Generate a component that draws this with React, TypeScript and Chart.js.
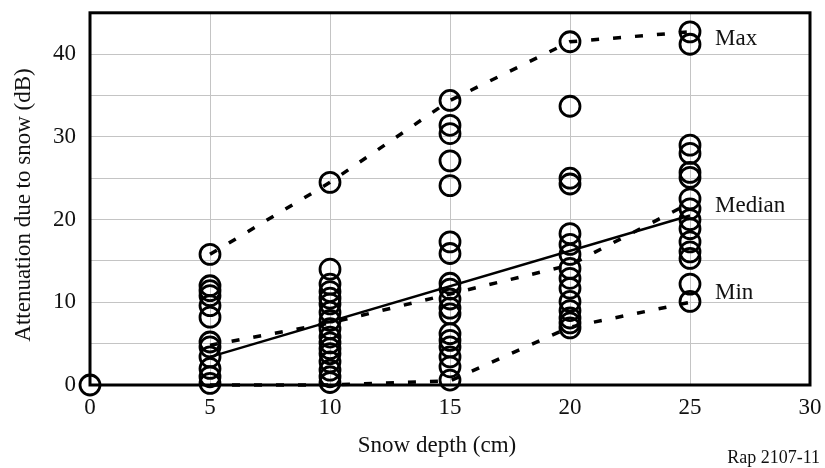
import React, { useEffect, useRef } from 'react';
import { Chart, registerables } from 'chart.js';

Chart.register(...registerables);

// ---- data ----
const depthColumns = [0, 5, 10, 15, 20, 25];
const atten0 = [0];
const atten5 = [15.8, 12, 11.4, 10.8, 9.6, 8.2, 5.2, 4.6, 3.4, 2, 1, 0.2];
const atten10 = [24.5, 14, 12.2, 11.3, 10.5, 9.8, 8.8, 7.8, 6.8, 5.8, 5.1, 4.4, 3.8, 2.8, 1.8, 1, 0.3];
const atten15 = [34.4, 31.4, 30.4, 27.1, 24.1, 17.3, 15.9, 12.3, 11.6, 10.4, 9.3, 8.6, 6.2, 5.4, 4.6, 3.4, 2.2, 0.6];
const atten20 = [41.5, 33.7, 25, 24.3, 18.3, 17, 15.8, 14.1, 12.9, 11.7, 10.1, 9, 8.1, 7.5, 6.9];
const atten25 = [42.7, 41.2, 29, 28, 25.7, 25.1, 22.5, 21.3, 20, 18.9, 17.3, 16.1, 15.3, 12.2, 10.1];
const attenByColumn = [atten0, atten5, atten10, atten15, atten20, atten25];

const curveDepths = [5, 10, 15, 20, 25];
const maxCurve = [15.8, 24.5, 34.4, 41.5, 42.7];
const midDashedCurve = [4.8, 7.5, 11, 14.5, 22];
const minCurve = [0, 0, 0.5, 7, 10];
const medianDepths = [5, 25];
const medianCurve = [3.4, 20.5];

const curveLabels = ['Max', 'Median', 'Min'];
const curveLabelValues = [41.8, 21.7, 11.1];

const xTitle = 'Snow depth (cm)';
const yTitle = 'Attenuation due to snow (dB)';
const figureRef = 'Rap 2107-11';

const FONT = '"Liberation Serif", "Times New Roman", serif';

const toPoints = (xs: number[], ys: number[]) => ys.map((y, i) => ({ x: xs[i], y }));

export default function App() {
  const canvasRef = useRef<HTMLCanvasElement | null>(null);

  useEffect(() => {
    document.body.style.margin = '0';
    const canvas = canvasRef.current;
    if (!canvas) return;

    const scatterPoints: { x: number; y: number }[] = [];
    depthColumns.forEach((d, i) => {
      attenByColumn[i].forEach((v) => scatterPoints.push({ x: d, y: v }));
    });

    const framePlugin = {
      id: 'frame',
      beforeDatasetsDraw(chart: any) {
        const { ctx, chartArea: a } = chart;
        ctx.save();
        ctx.strokeStyle = '#000';
        ctx.lineWidth = 3;
        ctx.strokeRect(a.left, a.top, a.right - a.left, a.bottom - a.top);
        ctx.restore();
      },
      afterDraw(chart: any) {
        const { ctx } = chart;
        const xs = chart.scales.x;
        const ys = chart.scales.y;
        ctx.save();
        ctx.fillStyle = '#111';
        ctx.font = `23px ${FONT}`;
        ctx.textAlign = 'left';
        ctx.textBaseline = 'middle';
        curveLabels.forEach((t, i) => {
          ctx.fillText(t, xs.getPixelForValue(25) + 25, ys.getPixelForValue(curveLabelValues[i]));
        });
        ctx.textAlign = 'center';
        ctx.textBaseline = 'alphabetic';
        ctx.fillText(xTitle, 437, 452);
        ctx.save();
        ctx.translate(30, 205);
        ctx.rotate(-Math.PI / 2);
        ctx.textAlign = 'center';
        ctx.textBaseline = 'alphabetic';
        ctx.fillText(yTitle, 0, 0);
        ctx.restore();
        ctx.font = `18px ${FONT}`;
        ctx.textAlign = 'right';
        ctx.textBaseline = 'alphabetic';
        ctx.fillText(figureRef, 820, 463);
        ctx.restore();
      },
    };

    const dashed = (data: number[]) => ({
      type: 'line' as const,
      data: toPoints(curveDepths, data),
      borderColor: '#000',
      borderWidth: 3.5,
      borderDash: [8, 14],
      pointRadius: 0,
      fill: false,
      showLine: true,
      clip: false as any,
    });

    const chart = new Chart(canvas, {
      type: 'scatter',
      data: {
        datasets: [
          dashed(maxCurve),
          dashed(midDashedCurve),
          dashed(minCurve),
          {
            type: 'line',
            data: toPoints(medianDepths, medianCurve),
            borderColor: '#000',
            borderWidth: 2.5,
            pointRadius: 0,
            fill: false,
            showLine: true,
          } as any,
          {
            type: 'scatter',
            data: scatterPoints,
            pointStyle: 'circle',
            pointRadius: 10,
            pointBorderWidth: 2.8,
            borderColor: '#000',
            backgroundColor: 'rgba(0,0,0,0)',
            clip: false,
          } as any,
        ],
      },
      options: {
        animation: false,
        responsive: true,
        maintainAspectRatio: false,
        layout: { padding: { left: 0, top: 9, right: 15, bottom: 0 } },
        plugins: { legend: { display: false }, tooltip: { enabled: false } },
        scales: {
          x: {
            type: 'linear',
            min: 0,
            max: 30,
            afterFit: (s: any) => {
              s.height = 83;
              s.paddingLeft = 0;
              s.paddingRight = 0;
            },
            border: { display: false },
            grid: { color: '#c4c4c4', lineWidth: 1, drawTicks: false },
            ticks: {
              stepSize: 5,
              padding: 9,
              color: '#111',
              font: { family: FONT, size: 23 },
            },
          },
          y: {
            type: 'linear',
            min: 0,
            max: 45,
            afterFit: (s: any) => {
              s.width = 90;
              s.paddingTop = 0;
              s.paddingBottom = 0;
            },
            border: { display: false },
            grid: { color: '#c4c4c4', lineWidth: 1, drawTicks: false },
            ticks: {
              stepSize: 5,
              padding: 14,
              color: '#111',
              font: { family: FONT, size: 23 },
              callback: (v: any) => (Number(v) % 10 === 0 ? String(v) : ''),
            },
          },
        },
      },
      plugins: [framePlugin],
    });

    return () => chart.destroy();
  }, []);

  return (
    <div style={{ width: 825, height: 468, position: 'relative', background: '#fff' }}>
      <canvas ref={canvasRef} />
    </div>
  );
}
